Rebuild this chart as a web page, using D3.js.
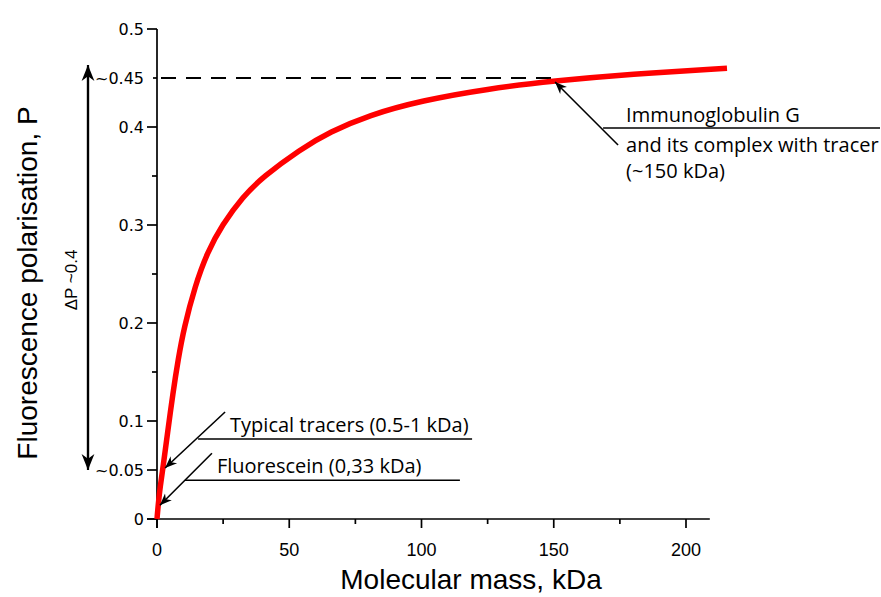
<!DOCTYPE html>
<html>
  <head>
    <title>Fluorescence polarisation vs molecular mass</title>
    <script src="https://d3js.org/d3.v7.min.js"></script>
    <style>
      body { margin: 0; background: #fff; }
    </style>
  </head>
  <body>
    <svg width="881" height="597"></svg>

    <script>
      // curve (kDa, P)
      const mass = [0, 0.5, 1.2, 2.3, 4, 6, 8, 10.2, 14.4, 19, 24.6, 32.5, 40, 54, 65.4, 80, 100, 125, 150, 179, 215.5];
      const polar = [0, 0.016, 0.033, 0.053, 0.088, 0.128, 0.163, 0.195, 0.238, 0.272, 0.3, 0.329, 0.349, 0.377, 0.395, 0.412, 0.427, 0.439, 0.447, 0.454, 0.46];

      const xTicks = [0, 50, 100, 150, 200];
      const xMinor = [25, 75, 125, 175];
      const yTicks = [0, 0.05, 0.1, 0.2, 0.3, 0.4, 0.45, 0.5];
      const yTickLabels = ["0", "~0.05", "0.1", "0.2", "0.3", "0.4", "~0.45", "0.5"];
      const yMinor = [0.15, 0.25, 0.35];

      const plateau = 0.45;
      const deltaFrom = 0.05;

      // annotation texts and the point each arrow hits (kDa, P)
      const iggLines = ["Immunoglobulin G", "and its complex with tracer", "(~150 kDa)"];
      const iggAt = [150.5, 0.45];
      const tracerText = "Typical tracers (0.5-1 kDa)";
      const tracerAt = [2.3, 0.052];
      const fluorText = "Fluorescein (0,33 kDa)";
      const fluorAt = [1.1, 0.014];

      const svg = d3.select("svg");
      const x = d3.scaleLinear().domain([0, 200]).range([157, 686]);
      const y = d3.scaleLinear().domain([0, 0.5]).range([519, 29]);

      const defs = svg.append("defs");
      defs.append("marker")
        .attr("id", "head")
        .attr("viewBox", "0 0 10 10")
        .attr("refX", 10).attr("refY", 5)
        .attr("markerWidth", 12).attr("markerHeight", 12)
        .attr("markerUnits", "userSpaceOnUse")
        .attr("orient", "auto")
        .append("path").attr("d", "M0,1 L10,5 L0,9 L3,5 Z").attr("fill", "#000");
      defs.append("marker")
        .attr("id", "bighead")
        .attr("viewBox", "0 0 10 10")
        .attr("refX", 10).attr("refY", 5)
        .attr("markerWidth", 16).attr("markerHeight", 16)
        .attr("markerUnits", "userSpaceOnUse")
        .attr("orient", "auto")
        .append("path").attr("d", "M0,1 L10,5 L0,9 L3,5 Z").attr("fill", "#000");

      // axes
      const g = svg.append("g").attr("stroke", "#000").attr("stroke-width", 1.7);
      g.append("line").attr("x1", x(0) - 10).attr("x2", x(209)).attr("y1", y(0)).attr("y2", y(0));
      g.append("line").attr("x1", x(0)).attr("x2", x(0)).attr("y1", y(0) + 9).attr("y2", y(0.5));

      g.selectAll(".xt").data(xTicks).join("line")
        .attr("x1", d => x(d)).attr("x2", d => x(d))
        .attr("y1", y(0)).attr("y2", y(0) + 9);
      g.selectAll(".xm").data(xMinor).join("line")
        .attr("x1", d => x(d)).attr("x2", d => x(d))
        .attr("y1", y(0)).attr("y2", y(0) + 5);
      g.selectAll(".yt").data(yTicks).join("line")
        .attr("x1", x(0)).attr("x2", d => x(0) - (d === 0.45 ? 4 : 10))
        .attr("y1", d => y(d)).attr("y2", d => y(d));
      g.selectAll(".ym").data(yMinor).join("line")
        .attr("x1", x(0)).attr("x2", x(0) - 5)
        .attr("y1", d => y(d)).attr("y2", d => y(d));

      svg.selectAll(".xl").data(xTicks).join("text")
        .attr("x", d => x(d)).attr("y", y(0) + 37)
        .attr("text-anchor", "middle")
        .attr("font-family", "Liberation Sans, Arial, sans-serif")
        .attr("font-size", 18)
        .text(d => d);

      svg.selectAll(".yl").data(yTicks).join("text")
        .attr("x", x(0) - 13).attr("y", d => y(d) + 6)
        .attr("text-anchor", "end")
        .attr("font-family", "DejaVu Sans, sans-serif")
        .attr("font-size", 16)
        .text((d, i) => yTickLabels[i]);

      // titles
      svg.append("text")
        .attr("x", 471).attr("y", 589)
        .attr("text-anchor", "middle")
        .attr("font-family", "Liberation Sans, Arial, sans-serif")
        .attr("font-size", 28)
        .text("Molecular mass, kDa");
      svg.append("text")
        .attr("transform", "translate(37,283) rotate(-90)")
        .attr("text-anchor", "middle")
        .attr("font-family", "Liberation Sans, Arial, sans-serif")
        .attr("font-size", 28)
        .text("Fluorescence polarisation, P");

      // plateau dashed line
      svg.append("line")
        .attr("x1", x(0) + 4).attr("x2", x(150))
        .attr("y1", y(plateau)).attr("y2", y(plateau))
        .attr("stroke", "#000").attr("stroke-width", 2)
        .attr("stroke-dasharray", "15,10");

      // delta P double arrow
      svg.append("line")
        .attr("x1", 88).attr("x2", 88)
        .attr("y1", y(deltaFrom) - 2).attr("y2", y(plateau) - 13)
        .attr("stroke", "#000").attr("stroke-width", 2.2)
        .attr("marker-end", "url(#bighead)");
      svg.append("line")
        .attr("x1", 88).attr("x2", 88)
        .attr("y1", y(plateau) - 11).attr("y2", y(deltaFrom))
        .attr("stroke", "#000").attr("stroke-width", 2.2)
        .attr("marker-end", "url(#bighead)");
      svg.append("text")
        .attr("transform", `translate(77,${(y(plateau) + y(deltaFrom)) / 2 + 6}) rotate(-90)`)
        .attr("text-anchor", "middle")
        .attr("font-family", "Liberation Sans, Arial, sans-serif")
        .attr("font-size", 17)
        .text("\u0394P ~0.4");

      // curve
      const line = d3.line()
        .x((d, i) => x(mass[i]))
        .y(d => y(d))
        .curve(d3.curveBasis);
      svg.append("path")
        .datum(polar)
        .attr("d", line)
        .attr("fill", "none")
        .attr("stroke", "#ff0000")
        .attr("stroke-width", 5.5);

      // annotations
      const font = "Open Sans, sans-serif";
      const fs = 20;

      function leader(ax, ay, dx, dy) {
        svg.append("line")
          .attr("x1", ax + dx).attr("y1", ay + dy).attr("x2", ax).attr("y2", ay)
          .attr("stroke", "#000").attr("stroke-width", 1.6).attr("marker-end", "url(#head)");
      }
      function rule(x1, x2, yy) {
        svg.append("line")
          .attr("x1", x1).attr("x2", x2).attr("y1", yy).attr("y2", yy)
          .attr("stroke", "#000").attr("stroke-width", 1.6);
      }

      // IgG
      const tx = x(iggAt[0]), ty = y(iggAt[1]) + 4;
      leader(tx, ty, 63, 63);
      rule(tx + 48, 880, ty + 46);
      svg.selectAll(".igg").data(iggLines).join("text")
        .attr("x", tx + 71)
        .attr("y", (d, i) => ty + 40 + (i === 0 ? 0 : 30 + (i - 1) * 26))
        .attr("font-family", font).attr("font-size", fs)
        .text(d => d);

      // typical tracers
      const ax = x(tracerAt[0]) + 2, ay = y(tracerAt[1]);
      leader(ax, ay, 60, -56);
      rule(ax + 33, ax + 307, ay - 29);
      svg.append("text").attr("x", ax + 65).attr("y", ay - 36)
        .attr("font-family", font).attr("font-size", fs).text(tracerText);

      // fluorescein
      const bx = x(fluorAt[0]), by = y(fluorAt[1]);
      leader(bx, by, 52, -52);
      rule(bx + 25, bx + 300, by - 25);
      svg.append("text").attr("x", bx + 57).attr("y", by - 32)
        .attr("font-family", font).attr("font-size", fs).text(fluorText);
    </script>
  </body>
</html>
